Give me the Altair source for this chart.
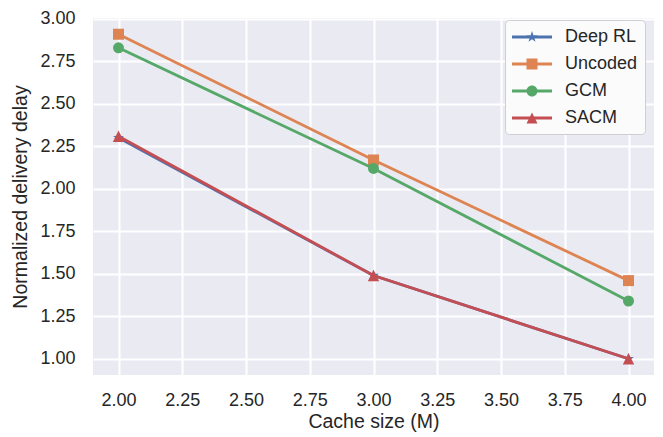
import altair as alt
import pandas as pd

# ---- data ----
cache_size = [2.0, 3.0, 4.0]
series_names = ["Deep RL", "Uncoded", "GCM", "SACM"]
deep_rl = [2.30, 1.49, 1.00]
uncoded = [2.91, 2.17, 1.46]
gcm = [2.83, 2.12, 1.34]
sacm = [2.31, 1.49, 1.00]
x_ticks = [2.0, 2.25, 2.5, 2.75, 3.0, 3.25, 3.5, 3.75, 4.0]
y_ticks = [1.0, 1.25, 1.5, 1.75, 2.0, 2.25, 2.5, 2.75, 3.0]

colors = ["#4c72b0", "#dd8452", "#55a868", "#c44e52"]

STAR = ("M0,-1L0.225,-0.309L0.951,-0.309L0.363,0.118L0.588,0.809L0,0.382"
        "L-0.588,0.809L-0.363,0.118L-0.951,-0.309L-0.225,-0.309Z")
TRI = "M0,-1L1,1L-1,1Z"
marker_paths = [STAR, "square", "circle", TRI]
marker_sizes = [130, 121, 121, 130]

# legend symbols: line + marker (unit = 10px with symbolSize 400)
LINE = "M-1,-0.14H3V0.14H-1Z"
L_STAR = ("M1,-0.6L1.135,-0.185L1.571,-0.185L1.218,0.071L1.353,0.485L1,0.229"
          "L0.647,0.485L0.782,0.071L0.429,-0.185L0.865,-0.185Z")
L_SQ = "M0.45,-0.55H1.55V0.55H0.45Z"
L_CI = "M1.55,0A0.55,0.55 0 1,1 0.45,0A0.55,0.55 0 1,1 1.55,0Z"
L_TR = "M1,-0.55L1.55,0.55L0.45,0.55Z"
legend_paths = [LINE + " " + p for p in (L_STAR, L_SQ, L_CI, L_TR)]

values = [deep_rl, uncoded, gcm, sacm]
rows = []
for name, vals in zip(series_names, values):
    for xv, yv in zip(cache_size, vals):
        rows.append({"series": name, "cache": xv, "delay": yv})
df = pd.DataFrame(rows)

FONT = "Liberation Sans"
TXT = "#262626"

x_enc = alt.X("cache:Q", scale=alt.Scale(domain=[1.9, 4.1], nice=False, zero=False),
              axis=alt.Axis(values=x_ticks, format=".2f", title="Cache size (M)",
                            labelPadding=16, titlePadding=3))
y_enc = alt.Y("delay:Q", scale=alt.Scale(domain=[0.9045, 3.0055], nice=False, zero=False),
              axis=alt.Axis(values=y_ticks, format=".2f", title="Normalized delivery delay",
                            labelPadding=18, titlePadding=9))

layers = []
for name, col, shp, sz in zip(series_names, colors, marker_paths, marker_sizes):
    sub = alt.Chart(df).transform_filter(alt.datum.series == name)
    layers.append(sub.mark_line(color=col, strokeWidth=2.8).encode(x=x_enc, y=y_enc))
    layers.append(sub.mark_point(filled=True, opacity=1, size=sz, color=col, strokeWidth=0)
                  .encode(x=x_enc, y=y_enc, shape=alt.value(shp)))

legend_layer = alt.Chart(df).mark_point(filled=True, opacity=0, size=400).encode(
    x=x_enc, y=y_enc,
    color=alt.Color("series:N", scale=alt.Scale(domain=series_names, range=colors),
                    legend=alt.Legend(title=None)),
    shape=alt.Shape("series:N", scale=alt.Scale(domain=series_names, range=legend_paths),
                    legend=alt.Legend(title=None)),
)

chart = alt.layer(*layers, legend_layer).properties(
    width=561, height=357,
    padding={"left": 85, "top": 10, "right": 1, "bottom": 58},
    autosize=alt.AutoSizeParams(type="none"),
).configure_view(
    fill="#eaeaf2", stroke=None
).configure_axis(
    domain=False, ticks=False, tickSize=0, grid=True, gridColor="#ffffff", gridWidth=2,
    labelFont=FONT, labelFontSize=18, labelColor=TXT,
    titleFont=FONT, titleFontSize=19.5, titleFontWeight="normal", titleColor=TXT,
).configure_legend(
    orient="none", legendX=412, legendY=2, padding=7, rowPadding=8, labelOffset=33,
    labelFont=FONT, labelFontSize=18, labelColor=TXT,
    fillColor="#fbfbfc", strokeColor="#cfcfd3", cornerRadius=4,
    symbolSize=400, symbolOpacity=1, symbolStrokeWidth=0,
)

chart.save("out.html", embed_options={"renderer": "svg", "actions": False})
